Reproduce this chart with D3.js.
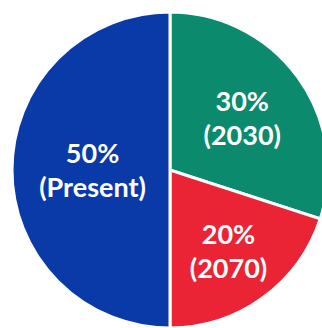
<!DOCTYPE html>
<html>
<head>
<meta charset="utf-8">
<script src="https://cdn.jsdelivr.net/npm/d3@7"></script>
<style>
  html, body { margin: 0; padding: 0; background: #ffffff; }
  svg { display: block; }
</style>
</head>
<body>
<svg id="chart" width="322" height="328"></svg>
<script>
// Share of each stage, drawn clockwise from 12 o'clock
const shares = [30, 20, 50];
const periods = ["2030", "2070", "Present"];
const colors = ["#0b8a6e", "#ea2335", "#0a3aa8"];

const width = 322, height = 328;
const cx = 170, cy = 170, radius = 158;

const svg = d3.select("#chart");
const g = svg.append("g").attr("transform", `translate(${cx},${cy})`);

const pie = d3.pie().sort(null).value(d => d.share);
const data = shares.map((s, i) => ({ share: s, period: periods[i], color: colors[i] }));
const arcs = pie(data);

const arc = d3.arc().innerRadius(0).outerRadius(radius);

g.selectAll("path.slice")
  .data(arcs)
  .join("path")
  .attr("class", "slice")
  .attr("d", arc)
  .attr("fill", d => d.data.color)
  .attr("stroke", "#ffffff")
  .attr("stroke-width", 3)
  .attr("stroke-linejoin", "miter");

// Label distance from the centre, as a fraction of the radius, per slice
const labelFactor = [0.565, 0.63, 0.49];

const labels = g.selectAll("text.lbl")
  .data(arcs)
  .join("text")
  .attr("class", "lbl")
  .attr("transform", (d, i) => {
    const r = radius * labelFactor[i];
    const a = (d.startAngle + d.endAngle) / 2;
    return `translate(${Math.sin(a) * r},${-Math.cos(a) * r})`;
  })
  .attr("text-anchor", "middle")
  .attr("fill", "#ffffff")
  .style("font-family", "Lato, 'Open Sans', sans-serif")
  .style("font-weight", 700)
  .style("font-size", "27px");

labels.append("tspan")
  .attr("x", 0)
  .attr("dy", "-0.25em")
  .text(d => d.data.share + "%");

labels.append("tspan")
  .attr("x", 0)
  .attr("dy", "1.26em")
  .text(d => "(" + d.data.period + ")");
</script>
</body>
</html>
